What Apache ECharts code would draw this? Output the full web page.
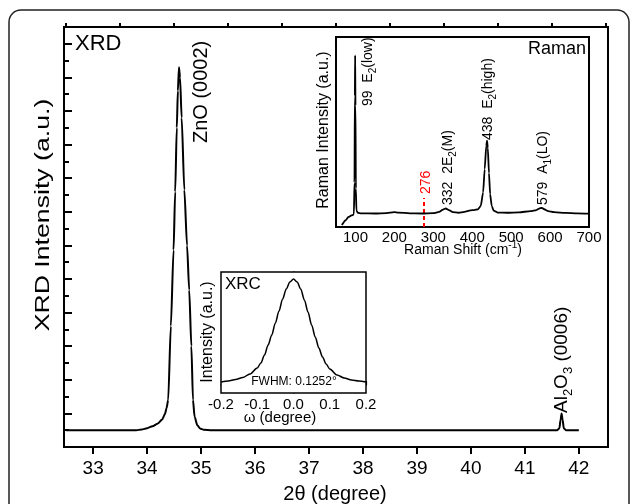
<!DOCTYPE html>
<html><head><meta charset="utf-8">
<script src="https://cdn.jsdelivr.net/npm/echarts@6/dist/echarts.min.js"></script>
<style>html,body{margin:0;padding:0;background:#fff}#c{width:630px;height:504px}</style>
</head><body><div id="c"></div>
<script>
// ---- XRD main pattern ----
const xrdTheta = [32.5,33.0,33.5,33.8,33.9,34.0,34.1,34.2,34.28,34.33,34.36,34.39,34.44,34.49,34.52,34.55,34.57,34.59,34.61,34.64,34.69,34.74,34.78,34.82,34.85,34.88,34.93,34.98,35.05,35.2,36.0,37.0,38.0,39.0,40.0,41.0,41.6,41.64,41.66,41.68,41.70,41.72,41.76,42.0];
const xrdIntensity = [5.0,5.0,5.0,5.0,5.2,5.6,6.2,7.0,8.2,9.8,11.5,14,36,58.6,76,95,106,113,110,98,76.5,60,46.7,30,14,9,6.5,5.5,5.1,5.0,5.0,5.0,5.0,5.0,5.0,5.0,5.0,5.6,8,10,8,5.6,5.0,5.0];
const xrdTickLabels = [33,34,35,36,37,38,39,40,41,42];
const xrdMinorTicks = [32.5,33.5,34.5,35.5,36.5,37.5,38.5,39.5,40.5,41.5,42.5];

// ---- Raman inset ----
const ramanShift = [65,75,82,90,94,96,97.5,98.5,99.2,100,101,102.5,106,115,150,180,200,210,240,270,300,315,325,332,340,350,365,380,395,405,415,422,428,432,436,438,440,443,446,450,455,465,490,520,550,565,575,579,585,595,610,640,670,700];
const ramanIntensity = [-7.0,-4.5,-2.8,-2.0,-1.7,-1.2,15,60,81,55,12,0.5,-0.6,-0.9,-1.0,-0.8,-0.3,-0.5,-0.9,-1.0,-0.8,-0.2,1.0,1.6,0.8,-0.3,-0.6,-0.2,0.6,0.8,1.2,3,10,22,34,36.8,33,20,9,3,0.5,-0.5,-0.6,-0.4,0.2,0.8,1.8,1.9,1.2,0.2,-0.3,-0.7,-0.9,-1.1];
const ramanTickLabels = [100,200,300,400,500,600,700];
const ramanMinorTicks = [50,150,250,350,450,550,650];
const ramanYTicks = [0,10,20,30,40,50,60,70,80,90];
const ramanYMinorTicks = [-5,5,15,25,35,45,55,65,75,85];
const ramanMarker = 276;

// ---- XRC inset ----
const xrcOmega = [-0.20,-0.18,-0.16,-0.14,-0.12,-0.10,-0.09,-0.08,-0.07,-0.06,-0.05,-0.04,-0.03,-0.02,-0.01,0.00,0.01,0.02,0.03,0.04,0.05,0.06,0.07,0.08,0.09,0.10,0.12,0.14,0.16,0.18,0.20];
const xrcIntensity = [3,4,5.5,7.5,11,17,22,30,40,50,62,74,86,96,103,106,103,96,85,73,60,48,37,28,21,16,10,7,5,4,3];
const xrcYTicks = [0,20,40,60,80,100];
const xrcYMinorTicks = [10,30,50,70,90,110];

const FONT = 'Liberation Sans, Arial, Helvetica, sans-serif';
const zip = (a, b) => a.map((v, i) => [v, b[i]]);
const black = '#000';

const chart = echarts.init(document.getElementById('c'));

function majorTicks(vals, len, inside, w) {
  return {show: true, customValues: vals, length: len, inside: inside, lineStyle: {color: black, width: w}};
}

const option = {
  animation: false,
  textStyle: {fontFamily: FONT},
  grid: [
    {left: 64, top: 27, width: 544, height: 420, show: true, borderColor: black, borderWidth: 2, backgroundColor: 'transparent'},
    {left: 336, top: 37, width: 253, height: 190, show: true, borderColor: black, borderWidth: 2, backgroundColor: '#fff', z: 5},
    {left: 221, top: 272, width: 145, height: 121, show: true, borderColor: black, borderWidth: 1.5, backgroundColor: '#fff', z: 5}
  ],
  xAxis: [
    {gridIndex: 0, type: 'value', min: 32.46, max: 42.54, splitLine: {show: false},
      axisLine: {lineStyle: {color: black, width: 2}},
      axisTick: majorTicks(xrdTickLabels, 7, false, 2),
      axisLabel: {customValues: xrdTickLabels, fontSize: 19, color: black, margin: 12, fontFamily: FONT}},
    {gridIndex: 0, type: 'value', min: 32.46, max: 42.54, splitLine: {show: false},
      axisLine: {show: false}, axisLabel: {show: false},
      axisTick: majorTicks(xrdMinorTicks, 4, false, 2)},
    {gridIndex: 1, type: 'value', min: 50, max: 700, splitLine: {show: false},
      axisLine: {lineStyle: {color: black, width: 2}},
      axisTick: majorTicks(ramanTickLabels, 4, false, 1.5),
      axisLabel: {customValues: ramanTickLabels, fontSize: 15, color: black, margin: 3, fontFamily: FONT}},
    {gridIndex: 1, type: 'value', min: 50, max: 700, splitLine: {show: false},
      axisLine: {show: false}, axisLabel: {show: false},
      axisTick: majorTicks(ramanMinorTicks, 3, false, 1.5)},
    {gridIndex: 2, type: 'value', min: -0.2, max: 0.2, interval: 0.1, splitLine: {show: false},
      axisLine: {lineStyle: {color: black, width: 1.5}},
      axisTick: {show: true, inside: true, length: 4, lineStyle: {color: black, width: 1.2}},
      minorTick: {show: true, splitNumber: 2, length: 2.5, lineStyle: {color: black, width: 1.2}},
      axisLabel: {fontSize: 15, color: black, margin: 4, fontFamily: FONT, formatter: v => v.toFixed(1)}}
  ],
  yAxis: [
    {gridIndex: 0, type: 'value', min: 0, max: 125, interval: 10, splitLine: {show: false},
      axisLine: {lineStyle: {color: black, width: 2}},
      axisTick: {show: true, inside: true, length: 8, lineStyle: {color: black, width: 2}},
      minorTick: {show: true, splitNumber: 2, length: 5, lineStyle: {color: black, width: 2}},
      axisLabel: {show: false}},
    {gridIndex: 1, type: 'value', min: -8, max: 90.5, splitLine: {show: false},
      axisLine: {lineStyle: {color: black, width: 2}},
      axisTick: majorTicks(ramanYTicks, 5, true, 1.5),
      axisLabel: {show: false}},
    {gridIndex: 1, type: 'value', min: -8, max: 90.5, splitLine: {show: false},
      axisLine: {show: false}, axisLabel: {show: false},
      axisTick: majorTicks(ramanYMinorTicks, 3, true, 1.5)},
    {gridIndex: 2, type: 'value', min: -8, max: 113, splitLine: {show: false},
      axisLine: {lineStyle: {color: black, width: 1.5}},
      axisTick: majorTicks(xrcYTicks, 4, true, 1.2),
      axisLabel: {show: false}},
    {gridIndex: 2, type: 'value', min: -8, max: 113, splitLine: {show: false},
      axisLine: {show: false}, axisLabel: {show: false},
      axisTick: majorTicks(xrcYMinorTicks, 2.5, true, 1.2)}
  ],
  series: [
    {type: 'line', xAxisIndex: 0, yAxisIndex: 0, data: zip(xrdTheta, xrdIntensity),
      showSymbol: false, smooth: 0.25, smoothMonotone: 'x', lineStyle: {color: black, width: 2}, z: 3},
    {type: 'line', xAxisIndex: 2, yAxisIndex: 1, data: zip(ramanShift, ramanIntensity),
      showSymbol: false, smooth: 0.2, smoothMonotone: 'x', lineStyle: {color: black, width: 1.8}, z: 6,
      markLine: {silent: true, symbol: 'none', label: {show: false},
        lineStyle: {color: '#ff0000', type: [4, 3], width: 2},
        data: [[{coord: [ramanMarker, -8]}, {coord: [ramanMarker, 7]}]]}},
    {type: 'line', xAxisIndex: 4, yAxisIndex: 3, data: zip(xrcOmega, xrcIntensity),
      showSymbol: false, smooth: 0.3, smoothMonotone: 'x', lineStyle: {color: black, width: 1.5}, z: 6}
  ],
  graphic: []
};
chart.setOption(option);

function txt(x, y, text, size, opts) {
  opts = opts || {};
  return {
    type: 'text', x: x, y: y, rotation: opts.rot ? Math.PI / 2 : 0, z: 100,
    scaleX: opts.sx || 1, scaleY: opts.sy || 1, silent: true,
    style: {
      text: text, fontSize: size, fontFamily: FONT, fill: opts.color || black,
      align: opts.align || 'left', verticalAlign: opts.va || 'middle',
      rich: opts.rich
    }
  };
}
function richSub(size, color) {
  return {
    n: {fontSize: size, fontFamily: FONT, fill: color || black, lineHeight: size + 6},
    s: {fontSize: Math.round(size * 0.68), fontFamily: FONT, fill: color || black, lineHeight: size + 6, verticalAlign: 'bottom'},
    p: {fontSize: Math.round(size * 0.68), fontFamily: FONT, fill: color || black, lineHeight: size + 4, verticalAlign: 'top'}
  };
}

const g = [
  {type: 'rect', z: 0, silent: true, shape: {x: 9, y: 10, width: 620, height: 530, r: 12},
    style: {fill: 'none', stroke: '#222', lineWidth: 1.5}},
  txt(75, 44, 'XRD', 22),
  txt(201, 143, 'ZnO (0002)', 20, {rot: true}),
  txt(562, 413, '{n|Al}{s|2}{n|O}{s|3}{n| (0006)}', 19, {rot: true, rich: richSub(19)}),
  txt(43, 215, 'XRD Intensity (a.u.)', 21, {rot: true, align: 'center', sx: 1.27}),
  txt(335, 494, '2θ (degree)', 20, {align: 'center'}),
  txt(586, 49, 'Raman', 18, {align: 'right'}),
  txt(324, 130, 'Raman Intensity (a.u.)', 16, {rot: true, align: 'center'}),
  txt(463, 250, '{n|Raman Shift (cm}{p|-1}{n|)}', 14, {align: 'center', rich: richSub(14)}),
  txt(368, 106, '{n|99  E}{s|2}{n|(low)}', 14, {rot: true, rich: richSub(14)}),
  txt(426, 194, '276', 14, {rot: true, color: '#ff0000'}),
  txt(448, 205, '{n|332  2E}{s|2}{n|(M)}', 14, {rot: true, rich: richSub(14)}),
  txt(488, 140, '{n|438  E}{s|2}{n|(high)}', 14, {rot: true, rich: richSub(14)}),
  txt(543, 205, '{n|579  A}{s|1}{n|(LO)}', 14, {rot: true, rich: richSub(14)}),
  txt(225, 284, 'XRC', 17),
  txt(208, 332, 'Intensity (a.u.)', 16, {rot: true, align: 'center'}),
  txt(294, 382, 'FWHM: 0.1252°', 12, {align: 'center'}),
  txt(280, 418, 'ω (degree)', 15, {align: 'center'})
];
chart.setOption({graphic: g});
</script>
</body></html>
